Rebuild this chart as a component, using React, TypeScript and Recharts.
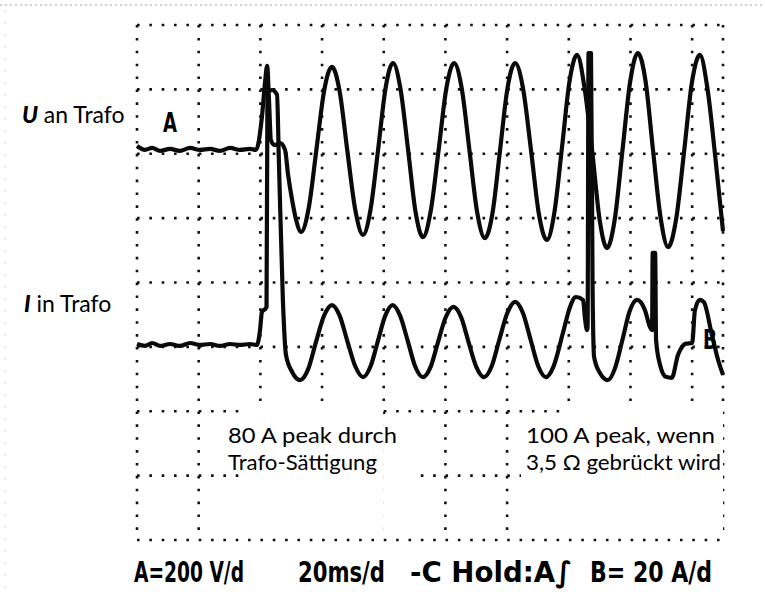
import React from 'react';
import { LineChart, Line, XAxis, YAxis, CartesianGrid, ReferenceArea } from 'recharts';

// U an Trafo (channel A, 200 V/div), time in ms (20 ms/div)
const uTime = [
  0, 2.6, 4.9, 7.5, 10.7, 13.9, 17.2, 20.4, 23.7, 26.9, 30.2, 33.4, 36.6, 38.6,
  40.5, 41.5, 42.2, 42.8, 43.4, 44.7, 46.4, 48.0, 49.0, 50.3, 51.6, 53.2,
  55.7, 58.2, 60.7, 63.2,
  65.7, 68.2, 70.8, 73.3,
  75.7, 78.2, 80.6, 83.0,
  85.4, 87.9, 90.3, 92.7,
  95.2, 97.8, 100.3, 102.8,
  105.3, 107.8, 110.3, 112.8,
  115.3, 117.7, 120.1, 122.6,
  125.2, 127.8, 130.3, 132.9,
  135.3, 137.8, 140.2, 142.7,
  145.1, 147.6, 150.0, 152.4,
  154.9, 157.4, 159.9, 162.4,
  164.9, 167.3, 169.8, 172.2,
  174.8, 177.4, 179.9, 182.5,
  185.0, 187.5, 190.0,
];
const uVolts = [
  24, 12, 18, 9, 15, 9, 18, 12, 15, 9, 18, 12, 15, 12,
  114, 220, 273, 167, 43, 27, 33, 12, -66, -144, -206, -243,
  -167, 15, 197, 270,
  194, 9, -176, -252,
  -174, 15, 204, 282,
  203, 12, -180, -259,
  -180, 12, 203, 282,
  202, 10, -182, -262,
  -182, 10, 202, 282,
  201, 7, -187, -268,
  -184, 20, 223, 307,
  205, 7, -205, -293,
  -204, 10, 224, 313,
  225, 12, -201, -290,
  -203, 8, 220, 307,
  200, -10, -240,
];

// I in Trafo (channel B, 20 A/div)
const iTime = [
  0, 2.6, 4.9, 7.5, 10.7, 13.9, 17.2, 20.4, 23.7, 26.9, 30.2, 33.4, 36.6, 38.9,
  39.9, 40.5, 41.8, 42.0, 42.3, 43.8, 45.4, 46.0, 47.3, 48.3, 50.3, 52.9,
  55.5, 58.0, 60.6, 63.2,
  65.7, 68.2, 70.8, 73.3,
  75.7, 78.1, 80.5, 82.9,
  85.3, 87.8, 90.2, 92.7,
  95.2, 97.6, 100.1, 102.6,
  105.1, 107.5, 110.0, 112.5,
  115.0, 117.5, 120.1, 122.6,
  125.1, 127.6, 130.1, 132.6,
  135.0, 138.1, 140.4, 142.3, 144.6, 145.3, 145.9, 146.1, 146.4, 147.2, 147.7, 148.2, 150.1, 152.7,
  155.0, 157.4, 159.7, 162.1,
  164.7, 166.3, 167.0, 167.2, 168.0, 168.3, 169.6, 171.5, 173.4,
  175.4, 176.1, 178.0, 180.0, 180.9, 182.5, 183.8, 186.4, 188.4, 190.0,
];
const iAmps = [
  0.9, 0.3, 1.2, 0.3, 0.9, 0.3, 1.2, 0.6, 0.9, 0.3, 0.9, 0.6, 0.9, 0.6,
  5.3, 10.8, 12.1, 12.5, 78.9, 79.8, 78.3, 58, 14.6, -2.5, -7.8, -10.3,
  -6.9, 1.4, 9.6, 13.0,
  9.7, 1.8, -6.1, -9.4,
  -6.1, 1.8, 9.7, 13.0,
  9.7, 1.8, -6.1, -9.4,
  -6.2, 1.5, 9.2, 12.4,
  9.2, 1.5, -6.2, -9.4,
  -6.0, 2.3, 10.6, 14.0,
  10.6, 2.3, -6.0, -9.4,
  -6.2, 4.3, 12.4, 15.5, 14.6, 8.4, 5.2, 6.0, 91.3, 91.3, 19.9, -3.1, -8.1, -10.3,
  -6.6, 2.2, 11.0, 14.6,
  11.4, 6.2, 5.2, 29.2, 29.2, 2.1, -5.6, -9.3, -9.6,
  -2.5, -1.0, 1.0, 1.2, 11.4, 14.6, 13.9, 3.7, -4.0, -8.7,
];

const timeTicks = [0, 20, 40, 60, 80, 100, 120, 140, 160, 180];
const divTicks = [0, 1, 2, 3, 4, 5, 6, 7, 8];

const uLabel = ['U', ' an Trafo'];
const iLabel = ['I', ' in Trafo'];
const note80 = ['80 A peak durch', 'Trafo-Sättigung'];
const note100 = ['100 A peak, wenn', '3,5 Ω gebrückt wird'];
const statusText = ['A=200 V/d', '20ms/d', '-C Hold:A∫', 'B= 20 A/d'];

const uData = uTime.map((t, k) => ({ t, v: uVolts[k] }));
const iData = iTime.map((t, k) => ({ t, v: iAmps[k] }));

// white areas where the scope screen hides the grid behind the annotation texts
const eraseBoxes = [
  { x1: 33.7, x2: 79.8, y1: 0.11, y2: 2.1 },
  { x1: 79.8, x2: 91.1, y1: 0.11, y2: 1.93 },
  { x1: 124.5, x2: 190, y1: 0.11, y2: 1.93 },
  { x1: 137.2, x2: 190, y1: 1.93, y2: 2.1 },
];

const textFont = "Lato, 'Noto Sans', sans-serif";
const scopeFont = "'DejaVu Sans Condensed', 'DejaVu Sans', sans-serif";

export default function App() {
  return (
    <div style={{ position: 'absolute', left: 0, top: 0, width: 765, height: 597, background: '#fff' }}>
      <div style={{ position: 'absolute', left: 0, top: 0 }}>
        <LineChart width={765} height={597} margin={{ top: 25, right: 42, bottom: 57, left: 137 }}>
          <XAxis type="number" dataKey="t" domain={[0, 190]} ticks={timeTicks} hide allowDuplicatedCategory={false} />
          <YAxis yAxisId="U" type="number" domain={[-1200, 400]} hide />
          <YAxis yAxisId="I" type="number" domain={[-60, 100]} hide />
          <YAxis yAxisId="div" type="number" domain={[0, 8]} ticks={divTicks} hide />
          <CartesianGrid yAxisId="div" horizontal vertical={false} stroke="#111" strokeWidth={2.6} strokeDasharray="2.6 9.74" />
          <CartesianGrid yAxisId="div" horizontal={false} vertical stroke="#111" strokeWidth={2.6} strokeDasharray="2.6 10.28" />
          {eraseBoxes.map((b, k) => (
            <ReferenceArea key={k} yAxisId="div" x1={b.x1} x2={b.x2} y1={b.y1} y2={b.y2} fill="#fff" fillOpacity={1} stroke="none" ifOverflow="extendDomain" />
          ))}
          <Line yAxisId="U" data={uData} dataKey="v" type="monotone" stroke="#0a0a0a" strokeWidth={4.2} dot={false} isAnimationActive={false} strokeLinejoin="round" />
          <Line yAxisId="I" data={iData} dataKey="v" type="monotone" stroke="#0a0a0a" strokeWidth={4.2} dot={false} isAnimationActive={false} strokeLinejoin="round" />
        </LineChart>
      </div>
      <svg width={765} height={597} style={{ position: 'absolute', left: 0, top: 0, pointerEvents: 'none' }}>
        <line x1={0} y1={5} x2={765} y2={5} stroke="#d4d4d4" strokeWidth={2} strokeDasharray="2 3" />
        <line x1={5} y1={10} x2={5} y2={590} stroke="#e0e0e0" strokeWidth={1.5} strokeDasharray="2 10" />
        <text x={22} y={123} fontFamily={textFont} fontSize={23} fill="#000">
          <tspan fontWeight={900} fontStyle="italic">{uLabel[0]}</tspan>
          <tspan>{uLabel[1]}</tspan>
        </text>
        <text x={24} y={312} fontFamily={textFont} fontSize={23} fill="#000">
          <tspan fontWeight={900} fontStyle="italic">{iLabel[0]}</tspan>
          <tspan>{iLabel[1]}</tspan>
        </text>
        <text x={228} y={443} fontFamily={textFont} fontSize={21.5} fill="#000" textLength={169} lengthAdjust="spacingAndGlyphs">{note80[0]}</text>
        <text x={228} y={470} fontFamily={textFont} fontSize={21.5} fill="#000" textLength={149} lengthAdjust="spacingAndGlyphs">{note80[1]}</text>
        <text x={526} y={443} fontFamily={textFont} fontSize={21.5} fill="#000" textLength={189} lengthAdjust="spacingAndGlyphs">{note100[0]}</text>
        <text x={526} y={470} fontFamily={textFont} fontSize={21.5} fill="#000" textLength={195} lengthAdjust="spacingAndGlyphs">{note100[1]}</text>
        <text x={163} y={132} fontFamily={scopeFont} fontWeight={700} fontSize={26} fill="#000" textLength={14} lengthAdjust="spacingAndGlyphs">A</text>
        <text x={703} y={349} fontFamily={scopeFont} fontWeight={700} fontSize={26} fill="#000" textLength={14} lengthAdjust="spacingAndGlyphs">B</text>
        <text x={134} y={582} fontFamily={scopeFont} fontWeight={700} fontSize={29} fill="#000" textLength={110} lengthAdjust="spacingAndGlyphs">{statusText[0]}</text>
        <text x={298} y={582} fontFamily={scopeFont} fontWeight={700} fontSize={29} fill="#000" textLength={87} lengthAdjust="spacingAndGlyphs">{statusText[1]}</text>
        <text x={410} y={582} fontFamily={scopeFont} fontWeight={700} fontSize={29} fill="#000" textLength={162} lengthAdjust="spacingAndGlyphs">{statusText[2]}</text>
        <text x={590} y={582} fontFamily={scopeFont} fontWeight={700} fontSize={29} fill="#000" textLength={122} lengthAdjust="spacingAndGlyphs">{statusText[3]}</text>
      </svg>
    </div>
  );
}
